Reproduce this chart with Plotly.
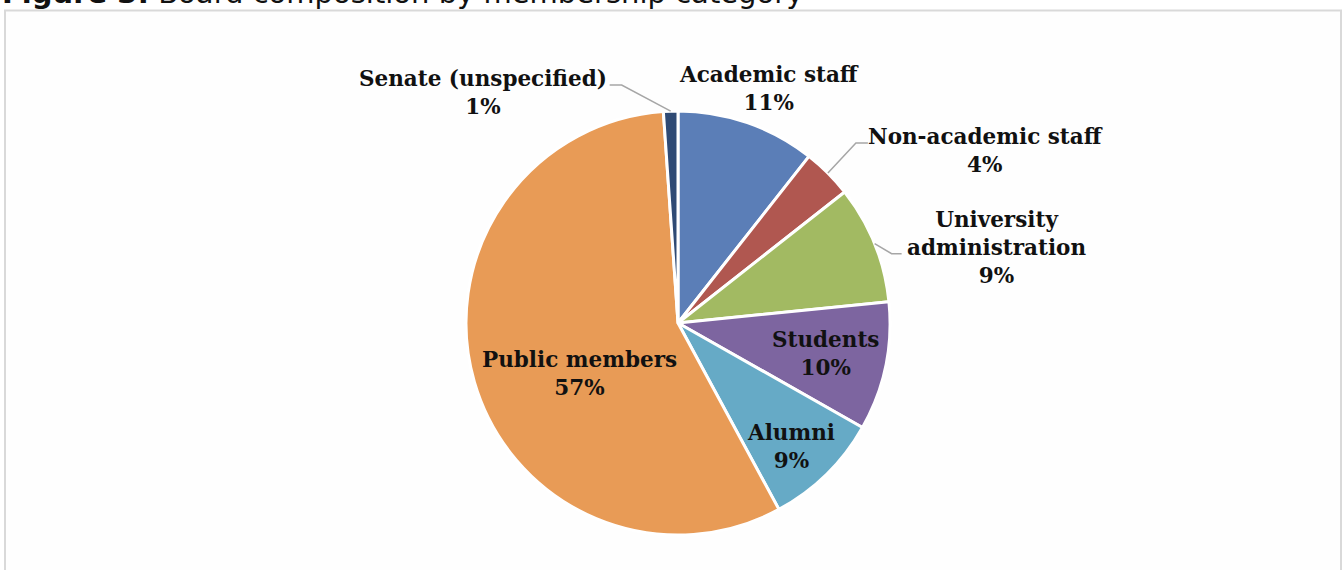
import math
import plotly.graph_objects as go

# ---- data ----
categories = ["Academic staff", "Non-academic staff", "University administration",
              "Students", "Alumni", "Public members", "Senate (unspecified)"]
label_text = ["Academic staff", "Non-academic staff", "University<br>administration",
              "Students", "Alumni", "Public members", "Senate (unspecified)"]
values = [10.6, 3.8, 9.0, 9.8, 8.9, 56.8, 1.1]
colors = ["#5B7EB7", "#B05750", "#A2BA62", "#7D65A0", "#66AAC6", "#E89B56", "#2F4A74"]
title_bold = "Figure 3:"
title_rest = " Board composition by membership category"

# ---- layout / style ----
W, H = 1344, 570
CX, CY, R = 678, 323, 212          # pie centre and radius, pixels

# label placement per slice: ("in", radial fraction, angle tweak deg)
#                            ("out", dx, dy from slice edge point, leader points rel. to edge or None)
label_style = {
    "Academic staff": ("out", 22, -34, None),
    "Non-academic staff": ("out", 158, -23, [(28, -30), (40, -30)]),
    "University administration": ("out", 122, 4, [(17, 10), (27, 10)]),
    "Students": ("in", 0.71, 0.0),
    "Alumni": ("in", 0.79, 2.0),
    "Public members": ("in", 0.52, -11.0),
    "Senate (unspecified)": ("out", -188, -19, [(-49, -26), (-61, -26)]),
}

def px(x):
    return x / W

def py(y):
    return 1 - y / H

def polar(theta_deg, r):
    t = math.radians(theta_deg)
    return CX + r * math.sin(t), CY - r * math.cos(t)

fig = go.Figure()
fig.add_trace(go.Pie(
    labels=categories, values=values, sort=False, direction="clockwise", rotation=0,
    marker=dict(colors=colors, line=dict(color="white", width=3)),
    textinfo="none", hoverinfo="label+percent", showlegend=False,
    domain=dict(x=[px(CX - R), px(CX + R)], y=[py(CY + R), py(CY - R)]),
))

total = sum(values)
annotations = []
shapes = []
cum = 0.0
for cat, txt, v in zip(categories, label_text, values):
    mid = (cum + v / 2) / total * 360
    cum += v
    pct = round(v / total * 100)
    text = f"<b>{txt}<br>{pct}%</b>"
    st = label_style[cat]
    if st[0] == "in":
        lx, ly = polar(mid + st[2], R * st[1])
    else:
        ex, ey = polar(mid, R)
        lx, ly = ex + st[1], ey + st[2]
        if st[3]:
            pts = [(ex, ey)] + [(ex + a, ey + b) for a, b in st[3]]
            path = "M " + " L ".join(f"{px(a):.5f},{py(b):.5f}" for a, b in pts)
            shapes.append(dict(type="path", path=path, xref="paper", yref="paper",
                               line=dict(color="#A6A6A6", width=1.5)))
    annotations.append(dict(
        text=text, x=px(lx), y=py(ly), xref="paper", yref="paper",
        xanchor="center", yanchor="middle", showarrow=False,
        font=dict(family="DejaVu Serif", size=21.5, color="#111111"),
    ))

annotations.append(dict(
    text=f"<b>{title_bold}</b>{title_rest}", x=0, y=py(12), xref="paper", yref="paper",
    xanchor="left", yanchor="bottom", showarrow=False,
    font=dict(family="DejaVu Sans", size=29, color="#111111"),
))

shapes.insert(0, dict(type="rect", xref="paper", yref="paper",
                      x0=px(5), x1=px(1341), y0=-0.05, y1=py(10.5),
                      line=dict(color="#D9D9D9", width=2), fillcolor="#FEFEFE", layer="below"))

fig.update_layout(
    width=W, height=H, margin=dict(l=0, r=0, t=0, b=0),
    paper_bgcolor="white", plot_bgcolor="white",
    annotations=annotations, shapes=shapes,
)

fig.write_html("out.html", config={"displayModeBar": False},
               post_script="document.body.style.margin='0';document.body.style.overflow='hidden';")
